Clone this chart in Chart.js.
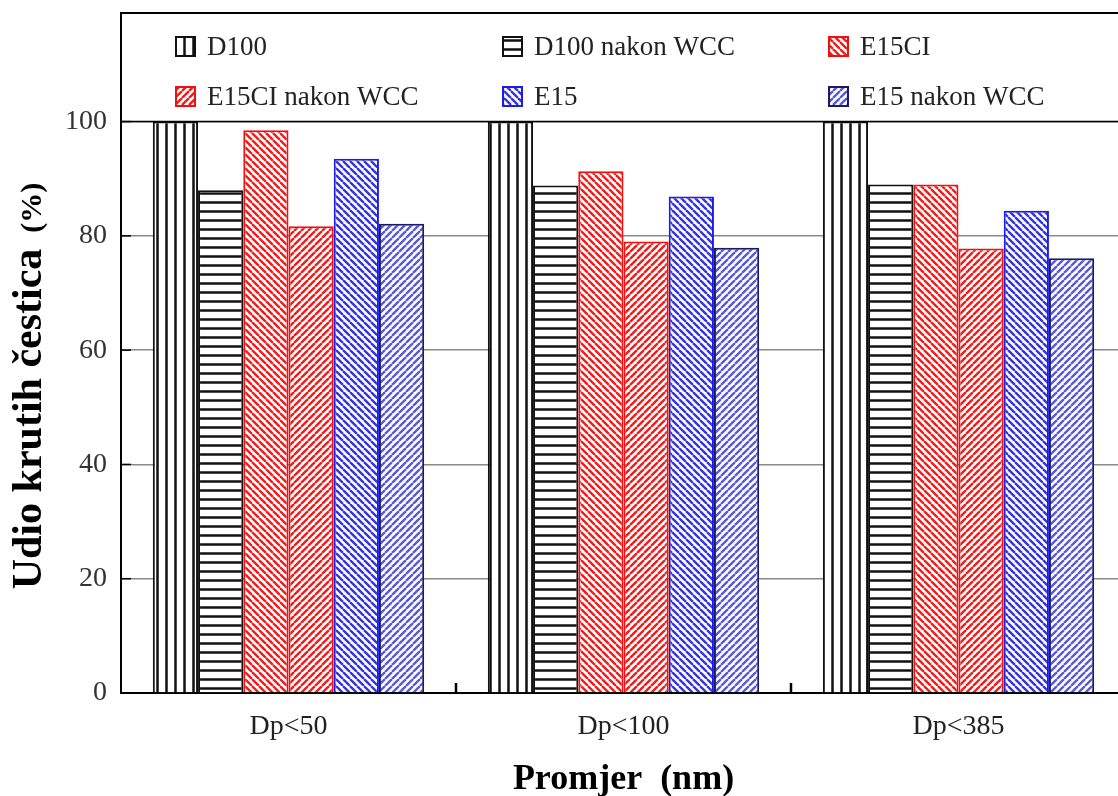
<!DOCTYPE html>
<html>
<head>
<meta charset="utf-8">
<script src="https://cdn.jsdelivr.net/npm/chart.js@4.4.0/dist/chart.umd.min.js"></script>
<style>
  html, body { margin: 0; padding: 0; background: #fff; overflow: hidden; }
</style>
</head>
<body>
<canvas id="c" width="1126" height="796"></canvas>
<script>
const categories = ["Dp<50", "Dp<100", "Dp<385"];
const d100 = [100, 100, 100];
const d100Wcc = [88, 88.8, 89];
const e15ci = [98.5, 91.3, 89];
const e15ciWcc = [81.7, 79, 77.8];
const e15 = [93.5, 86.9, 84.4];
const e15Wcc = [82.1, 77.9, 76.1];
const yTicks = [0, 20, 40, 60, 80, 100];

const canvas = document.getElementById("c");
const ctx = canvas.getContext("2d");
const SERIF = "'Liberation Serif', 'DejaVu Serif', serif";

// hatch fills, tiled from a small canvas
function hatch(kind, color, period, width) {
  const t = document.createElement("canvas");
  t.width = period;
  t.height = period;
  const g = t.getContext("2d");
  g.fillStyle = "#fff";
  g.fillRect(0, 0, period, period);
  g.strokeStyle = color;
  g.lineWidth = width;
  g.beginPath();
  if (kind === "v") {
    g.moveTo(period / 2, 0); g.lineTo(period / 2, period);
  } else if (kind === "h") {
    g.moveTo(0, period / 2); g.lineTo(period, period / 2);
  } else {
    for (let k = -1; k <= 1; k++) {
      if (kind === "back") { g.moveTo(k * period, 0); g.lineTo(k * period + period, period); }
      else { g.moveTo(k * period + period, 0); g.lineTo(k * period, period); }
    }
  }
  g.stroke();
  return ctx.createPattern(t, "repeat");
}

const fills = [
  hatch("v", "#111", 9, 2.5),
  hatch("h", "#111", 9, 2.5),
  hatch("back", "#f21c1c", 7, 2.4),
  hatch("fwd", "#f21c1c", 7, 2.4),
  hatch("back", "#3434e0", 7, 2.4),
  hatch("fwd", "#5a5ad8", 7, 2.4)
];
const borders = ["#111", "#111", "#f01010", "#f01010", "#1c1ce8", "#1a1a66"];
const labels = ["D100", "D100 nakon WCC", "E15CI", "E15CI nakon WCC", "E15", "E15 nakon WCC"];
const series = [d100, d100Wcc, e15ci, e15ciWcc, e15, e15Wcc];

const frame = {
  id: "frame",
  afterDraw(chart) {
    const c = chart.ctx;
    const a = chart.chartArea;
    const y = chart.scales.y;
    c.save();
    c.strokeStyle = "#000";
    // top border + legend box
    c.lineWidth = 2;
    c.beginPath();
    c.moveTo(a.left, a.top); c.lineTo(a.right, a.top);
    c.stroke();
    c.lineWidth = 1.5;
    c.beginPath();
    c.moveTo(a.left, y.getPixelForValue(100)); c.lineTo(a.right, y.getPixelForValue(100));
    c.stroke();
    // inward ticks
    c.lineWidth = 1.5;
    yTicks.slice(1).forEach(v => {
      const py = y.getPixelForValue(v);
      c.beginPath(); c.moveTo(a.left, py); c.lineTo(a.left + 10, py); c.stroke();
    });
    c.lineWidth = 2.5;
    const step = (a.right - a.left) / categories.length;
    for (let k = 1; k < categories.length; k++) {
      const px = a.left + k * step;
      c.beginPath(); c.moveTo(px, a.bottom); c.lineTo(px, a.bottom - 10); c.stroke();
    }
    // legend
    const colX = [176, 503, 829];
    const rowY = [47, 97];
    c.font = "27px " + SERIF;
    c.textBaseline = "middle";
    labels.forEach((lab, i) => {
      const x = colX[i % 3];
      const yy = rowY[Math.floor(i / 3)];
      c.fillStyle = fills[i];
      c.fillRect(x, yy - 10, 19, 19);
      c.strokeStyle = borders[i];
      c.lineWidth = 2;
      c.strokeRect(x, yy - 10, 19, 19);
      c.fillStyle = "#222";
      c.fillText(lab, x + 31, yy + 1);
    });
    // y title
    c.translate(41, 386);
    c.rotate(-Math.PI / 2);
    c.fillStyle = "#000";
    c.textBaseline = "alphabetic";
    c.font = "bold 42px " + SERIF;
    const t1 = "Udio krutih čestica";
    const w1 = c.measureText(t1).width;
    c.font = "bold 30px " + SERIF;
    const t2 = "(%)";
    const w2 = c.measureText(t2).width;
    const gap = 16;
    const start = -(w1 + gap + w2) / 2;
    c.font = "bold 42px " + SERIF;
    c.fillText(t1, start, 0);
    c.font = "bold 30px " + SERIF;
    c.fillText(t2, start + w1 + gap, 0);
    c.restore();
    // x title
    c.save();
    c.fillStyle = "#000";
    c.font = "bold 36px " + SERIF;
    c.textAlign = "center";
    c.textBaseline = "alphabetic";
    c.fillText("Promjer  (nm)", (a.left + a.right) / 2, 789);
    c.restore();
  }
};

new Chart(ctx, {
  type: "bar",
  data: {
    labels: categories,
    datasets: series.map((d, i) => ({
      label: labels[i],
      data: d,
      backgroundColor: fills[i],
      borderColor: borders[i],
      borderWidth: 2
    }))
  },
  options: {
    responsive: false,
    animation: false,
    layout: { padding: { top: 13, left: 0, right: 0, bottom: 0 } },
    datasets: { bar: { categoryPercentage: 0.81, barPercentage: 1 } },
    plugins: { legend: { display: false }, tooltip: { enabled: false } },
    scales: {
      x: {
        grid: { display: false, drawTicks: false },
        border: { color: "#000", width: 2 },
        ticks: { font: { family: SERIF, size: 28 }, color: "#222", padding: 17 },
        afterFit(s) { s.height = 103; s.paddingLeft = 0; s.paddingRight = 0; }
      },
      y: {
        min: 0,
        max: 119,
        afterBuildTicks(s) { s.ticks = yTicks.map(v => ({ value: v })); },
        grid: { color: "#8a8a8a", lineWidth: 1.5, drawTicks: false },
        border: { color: "#000", width: 2 },
        ticks: { font: { family: SERIF, size: 28 }, color: "#333", padding: 14 },
        afterFit(s) { s.width = 121; s.paddingTop = 0; s.paddingBottom = 0; }
      }
    }
  },
  plugins: [frame]
});
</script>
</body>
</html>
